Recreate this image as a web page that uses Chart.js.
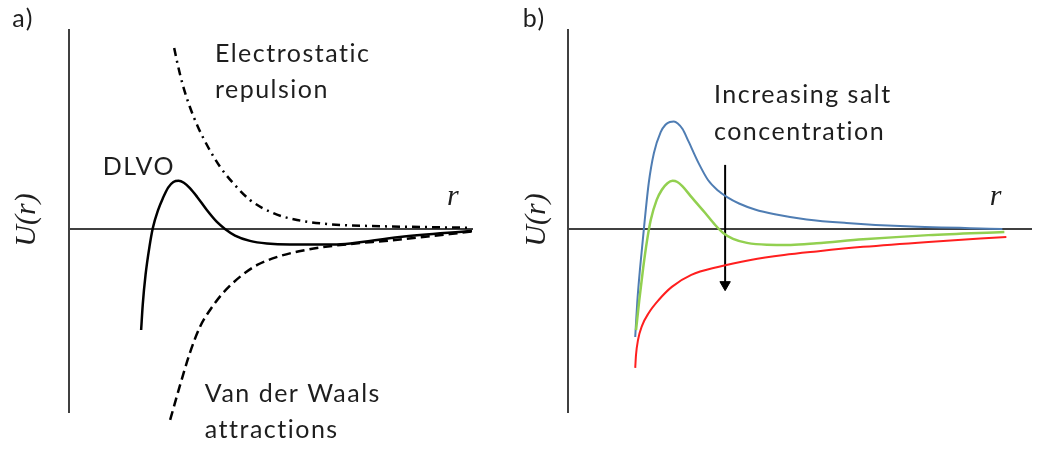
<!DOCTYPE html>
<html>
<head>
<meta charset="utf-8">
<title>DLVO potential</title>
<script src="https://cdn.jsdelivr.net/npm/chart.js@4.4.1/dist/chart.umd.min.js"></script>
<style>
  html, body { margin: 0; padding: 0; background: #fff; }
  #chart-wrapper { display: flex; width: 1038px; height: 450px; }
  canvas { display: block; }
</style>
</head>
<body>
<div id="chart-wrapper">
  <canvas id="chart-a" width="519" height="450"></canvas>
  <canvas id="chart-b" width="519" height="450"></canvas>
</div>
<script>
// panel a) - separation r vs. potential U (arbitrary units)
const repulsionR = [2.61, 2.70, 2.83, 3.00, 3.20, 3.45, 3.75, 4.07, 4.49, 5.06, 5.66, 6.40, 7.47, 8.71, 9.95]
const repulsionU = [9.10, 8.24, 7.19, 6.13, 5.13, 4.12, 3.12, 2.31, 1.46, 0.80, 0.45, 0.25, 0.15, 0.10, 0.06]

const dlvoR = [1.79, 1.83, 1.90, 2.00, 2.08, 2.21, 2.33, 2.46, 2.59, 2.72, 2.85, 3.00, 3.18, 3.42, 3.67, 3.87, 4.12, 4.49, 4.91, 5.48, 6.55, 8.21, 10.0]
const dlvoU = [-5.08, -3.80, -2.30, -0.85, 0.05, 0.95, 1.55, 2.08, 2.36, 2.42, 2.32, 2.05, 1.61, 0.95, 0.35, 0.0, -0.33, -0.60, -0.73, -0.78, -0.78, -0.40, -0.10]

const vdwR = [2.51, 2.75, 3.00, 3.25, 3.50, 3.82, 4.24, 4.67, 5.24, 5.81, 6.55, 8.21, 10.0]
const vdwU = [-9.60, -7.89, -6.23, -4.92, -4.07, -3.22, -2.41, -1.81, -1.36, -1.08, -0.85, -0.53, -0.13]

// panel b) - DLVO curves for three salt concentrations
const lowSaltR = [1.69, 1.74, 1.81, 1.91, 2.03, 2.16, 2.33, 2.45, 2.56, 2.66, 2.76, 2.88, 3.03, 3.28, 3.52, 3.77, 4.00, 4.30, 4.70, 5.20, 6.00, 7.00, 8.50, 10.92]
const lowSaltU = [-5.43, -3.72, -2.01, 0.05, 2.31, 3.82, 4.87, 5.24, 5.38, 5.40, 5.30, 5.02, 4.40, 3.32, 2.46, 1.93, 1.60, 1.28, 0.98, 0.74, 0.48, 0.30, 0.13, 0.0]

const midSaltR = [1.71, 1.79, 1.89, 1.99, 2.08, 2.23, 2.36, 2.50, 2.63, 2.75, 2.88, 3.10, 3.45, 3.70, 3.90, 4.15, 4.50, 5.00, 5.60, 6.25, 7.42, 9.06, 10.97]
const midSaltU = [-5.08, -3.62, -1.96, -0.55, 0.45, 1.46, 1.97, 2.30, 2.42, 2.36, 2.14, 1.61, 0.80, 0.20, -0.20, -0.50, -0.70, -0.79, -0.80, -0.72, -0.52, -0.31, -0.15]

const highSaltR = [1.69, 1.71, 1.76, 1.86, 2.03, 2.28, 2.61, 3.10, 3.77, 4.59, 5.43, 6.25, 7.42, 9.06, 11.02]
const highSaltU = [-6.98, -6.33, -5.58, -4.87, -4.22, -3.57, -2.91, -2.31, -1.91, -1.56, -1.31, -1.13, -0.90, -0.65, -0.40]

const arrowR = [3.95, 3.95]
const arrowU = [3.22, -2.80]

// axis ranges
const uMin = -9.2, uMax = 10.0
const rMaxA = 10.0, rMaxB = 11.64

function toPoints(xs, ys) {
    return xs.map((x, i) => ({ x: x, y: ys[i] }))
}

function curve(xs, ys, color, width, dash) {
    return {
        data: toPoints(xs, ys),
        borderColor: color,
        borderWidth: width,
        borderDash: dash || [],
        pointRadius: 0,
        cubicInterpolationMode: 'monotone',
        fill: false,
        clip: false
    }
}

// free text placed in data coordinates
const textPlugin = {
    id: 'panelText',
    afterDraw(chart) {
        const ctx = chart.ctx
        const xs = chart.scales.x, ys = chart.scales.y
        chart.options.plugins.panelText.items.forEach(t => {
            ctx.save()
            ctx.translate(xs.getPixelForValue(t.r), ys.getPixelForValue(t.u))
            if (t.rotate) ctx.rotate(t.rotate)
            ctx.font = t.font || '25px Lato'
            ctx.letterSpacing = t.font ? '0px' : '1.5px'
            ctx.fillStyle = '#1e1e1e'
            ctx.textAlign = t.align || 'left'
            ctx.textBaseline = t.baseline || 'alphabetic'
            ctx.fillText(t.text, 0, 0)
            ctx.restore()
        })
    }
}

function makeOptions(rMax, padLeft, padRight, items) {
    return {
        responsive: false,
        animation: false,
        devicePixelRatio: 1,
        layout: { padding: { left: padLeft, right: padRight, top: 30, bottom: 38 } },
        plugins: {
            legend: { display: false },
            tooltip: { enabled: false },
            panelText: { items: items }
        },
        scales: {
            x: {
                type: 'linear',
                min: 0,
                max: rMax,
                position: { y: 0 },
                ticks: { display: false },
                grid: { display: false, drawTicks: false },
                border: { display: true, color: '#404040', width: 2 }
            },
            y: {
                type: 'linear',
                min: uMin,
                max: uMax,
                ticks: { display: false },
                grid: { display: false, drawTicks: false },
                border: { display: true, color: '#404040', width: 2 }
            }
        }
    }
}

const mathFont = 'italic 30px "Liberation Serif"'

document.addEventListener("DOMContentLoaded", function() {
    new Chart(document.getElementById('chart-a').getContext('2d'), {
        type: 'line',
        data: {
            datasets: [
                curve(repulsionR, repulsionU, '#000', 2.5, [8, 5, 2, 5]),
                curve(vdwR, vdwU, '#000', 2.5, [9, 5]),
                curve(dlvoR, dlvoU, '#000', 2.5)
            ]
        },
        options: makeOptions(rMaxA, 69, 47, [
            { text: 'a)', r: -1.41, u: 10.15 },
            { text: 'Electrostatic', r: 3.62, u: 8.39 },
            { text: 'repulsion', r: 3.62, u: 6.58 },
            { text: 'DLVO', r: 0.84, u: 2.71 },
            { text: 'Van der Waals', r: 3.37, u: -8.69 },
            { text: 'attractions', r: 3.37, u: -10.50 },
            { text: 'r', r: 9.38, u: 1.21, font: mathFont },
            { text: 'U(r)', r: -1.04, u: 0.45, font: mathFont, align: 'center', baseline: 'middle', rotate: -Math.PI / 2 }
        ]),
        plugins: [textPlugin]
    })

    const arrow = curve(arrowR, arrowU, '#000', 2)
    arrow.pointRadius = [0, 6]
    arrow.pointStyle = 'triangle'
    arrow.pointRotation = 180
    arrow.pointBackgroundColor = '#000'
    arrow.pointBorderColor = '#000'
    arrow.pointBorderWidth = 1

    new Chart(document.getElementById('chart-b').getContext('2d'), {
        type: 'line',
        data: {
            datasets: [
                curve(highSaltR, highSaltU, '#ff1f1f', 2),
                curve(midSaltR, midSaltU, '#92d050', 2.5),
                curve(lowSaltR, lowSaltU, '#4f7db3', 2),
                arrow
            ]
        },
        options: makeOptions(rMaxB, 49, 1, [
            { text: 'b)', r: -1.14, u: 10.15 },
            { text: 'Increasing salt', r: 3.67, u: 6.33 },
            { text: 'concentration', r: 3.67, u: 4.47 },
            { text: 'r', r: 10.60, u: 1.21, font: mathFont },
            { text: 'U(r)', r: -0.77, u: 0.45, font: mathFont, align: 'center', baseline: 'middle', rotate: -Math.PI / 2 }
        ]),
        plugins: [textPlugin]
    })
})
</script>
</body>
</html>
